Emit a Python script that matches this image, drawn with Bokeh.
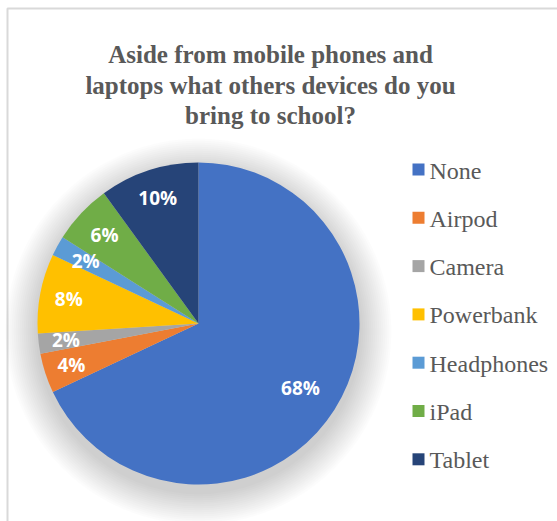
import numpy as np
from bokeh.plotting import figure
from bokeh.models import Range1d, ColumnDataSource
from bokeh.core.properties import value
from bokeh.embed import file_html
from bokeh.resources import INLINE

# ---- data ----
categories = ["None", "Airpod", "Camera", "Powerbank", "Headphones", "iPad", "Tablet"]
percents = [68, 4, 2, 8, 2, 6, 10]
title_lines = ["Aside from mobile phones and",
               "laptops what others devices do you",
               "bring to school?"]

# ---- style ----
colors = ["#4472C4", "#ED7D31", "#A5A5A5", "#FFC000", "#5B9BD5", "#70AD47", "#264478"]
label_radius_frac = [0.75, 0.83, 0.83, 0.82, 0.80, 0.80, 0.82]
W, H = 557, 521
CX, CY, R = 198, 323, 161

def Y(py):
    return H - py

p = figure(width=W, height=H, x_range=Range1d(0, W), y_range=Range1d(0, H),
           min_border=0, toolbar_location=None, output_backend="svg",
           x_axis_location=None, y_axis_location=None)
p.grid.visible = False
p.outline_line_color = None
p.background_fill_color = "white"
p.border_fill_color = "white"

# chart frame
p.line(x=[7, 7, 600], y=[Y(600), Y(8), Y(8)], line_color="#d9d9d9", line_width=2)

# soft shadow
for k in range(16):
    p.circle(x=[CX], y=[Y(CY + 8)], radius=R + 2 + 2 * k,
             fill_color="black", fill_alpha=0.012, line_color=None)

# pie
vals = np.array(percents, dtype=float)
frac = vals / vals.sum()
cum_end = np.cumsum(frac)
cum_start = cum_end - frac
start = np.deg2rad(90 - cum_end * 360)
end = np.deg2rad(90 - cum_start * 360)
src = ColumnDataSource(dict(start=start, end=end, color=colors, cat=categories))
p.wedge(x=CX, y=Y(CY), radius=R, start_angle="start", end_angle="end",
        fill_color="color", line_color=None, source=src)

# labels
mid = (start + end) / 2
lx = CX + np.array(label_radius_frac) * R * np.cos(mid)
ly = Y(CY) + np.array(label_radius_frac) * R * np.sin(mid)
p.text(x=lx, y=ly, text=[f"{v}%" for v in percents],
       text_font=value("Open Sans"), text_font_style="bold", text_font_size="19px",
       text_color="white", text_align="center", text_baseline="middle")

# title
for i, t in enumerate(title_lines):
    p.text(x=[270], y=[Y(54 + 30.5 * i)], text=[t], text_font=value("Liberation Serif"),
           text_font_style="bold", text_font_size="25px", text_color="#595959",
           text_align="center", text_baseline="alphabetic")

# legend
for i, (c, col) in enumerate(zip(categories, colors)):
    yc = 169 + 48.3 * i
    p.rect(x=[418], y=[Y(yc)], width=12, height=12, fill_color=col, line_color=None)
    p.text(x=[429], y=[Y(yc + 1)], text=[c], text_font=value("Liberation Serif"),
           text_font_size="24px", text_color="#595959",
           text_align="left", text_baseline="alphabetic")

open("out.html", "w").write(file_html(p, INLINE))
